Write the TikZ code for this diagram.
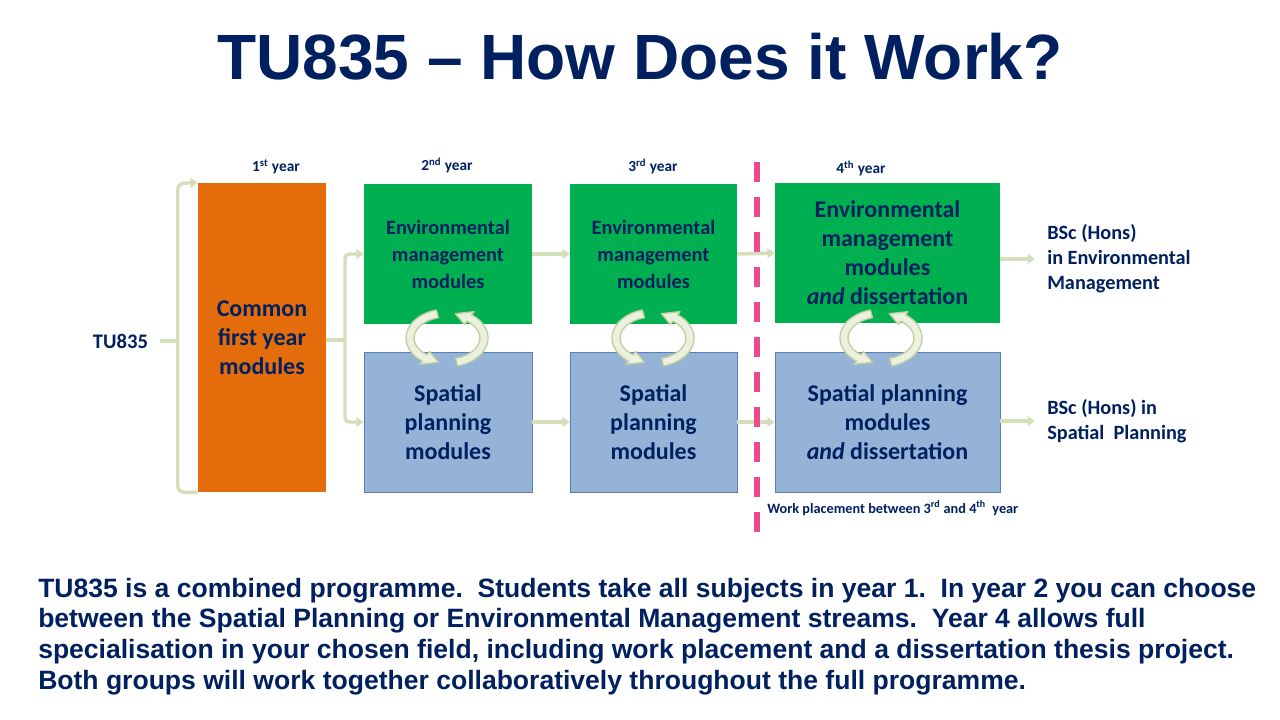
\documentclass[tikz,border=0pt]{standalone}
\usepackage{fontspec}
\setmainfont{Carlito}
\newfontfamily\arialfont{Liberation Sans}[Ligatures=TeX]
\usetikzlibrary{arrows.meta,calc}
\definecolor{navy}{HTML}{002060}
\definecolor{orangebox}{HTML}{E46C0A}
\definecolor{greenbox}{HTML}{00B050}
\definecolor{bluebox}{HTML}{95B3D7}
\definecolor{blueedge}{HTML}{5A7FB5}
\definecolor{conncol}{HTML}{D3DFB9}
\definecolor{cycfill}{HTML}{EBF1DE}
\definecolor{cycedge}{HTML}{BFCF9E}
\definecolor{pinkdash}{HTML}{EC4A8C}
\newcommand\cyclearr[1]{%
  \filldraw[cyc] ($(#1)+(255:41 and 29)$) arc[start angle=255, end angle=127, x radius=41, y radius=29]
    -- ($(#1)+(127:45 and 33)$) -- ($(#1)+(103:37 and 25)$) -- ($(#1)+(127:29 and 17)$)
    -- ($(#1)+(127:33 and 21)$) arc[start angle=127, end angle=255, x radius=33, y radius=21] -- cycle;
  \filldraw[cyc] ($(#1)+(75:41 and 29)$) arc[start angle=75, end angle=-53, x radius=41, y radius=29]
    -- ($(#1)+(-53:45 and 33)$) -- ($(#1)+(-77:37 and 25)$) -- ($(#1)+(-53:29 and 17)$)
    -- ($(#1)+(-53:33 and 21)$) arc[start angle=-53, end angle=75, x radius=33, y radius=21] -- cycle;
}
\begin{document}
\begin{tikzpicture}[x=0.75pt,y=-0.75pt,
  boxtext/.style={text=navy, align=center, inner sep=0pt},
  smalltext/.style={font=\fontsize{15.3}{20.25}\selectfont\bfseries},
  bigtext/.style={font=\fontsize{18}{21.75}\selectfont\bfseries},
  obox/.style={boxtext, bigtext, fill=orangebox, minimum width=96pt, minimum height=231.75pt},
  gbox/.style={boxtext, fill=greenbox, minimum height=105pt},
  bbox/.style={boxtext, bigtext, fill=bluebox, draw=blueedge, line width=0.6pt, minimum height=105pt},
  yearlbl/.style={text=navy, font=\fontsize{11.5}{13}\selectfont\bfseries, anchor=base, inner sep=0pt},
  outlbl/.style={text=navy, font=\fontsize{15.2}{18.75}\selectfont\bfseries, align=left, anchor=west, inner sep=0pt},
  para/.style={text=navy, font=\arialfont\fontsize{19.9}{23}\selectfont\bfseries, anchor=base west, inner sep=0pt},
  conn/.style={draw=conncol, line width=2.6pt},
  arr/.style={conn, -{Triangle[length=5.5pt,width=7.5pt]}},
  cyc/.style={fill=cycfill, draw=cycedge, line width=1pt, line join=round},
]
\useasboundingbox (0,0) rectangle (1280,720);
\fill[white] (0,0) rectangle (1280,720);

% title
\node[text=navy, font=\arialfont\fontsize{48}{56}\selectfont\bfseries, anchor=base, inner sep=0pt] (title) at (640,80) {TU835 \textendash{} How Does it Work?};

% year labels
\node[yearlbl] (y1) at (276,172) {1\textsuperscript{st} year};
\node[yearlbl] (y2) at (447,171) {2\textsuperscript{nd} year};
\node[yearlbl] (y3) at (653,172) {3\textsuperscript{rd} year};
\node[yearlbl] (y4) at (861,174) {4\textsuperscript{th} year};

% boxes
\node[obox] (o) at (262,337.5) {Common\\first year\\modules};
\node[gbox, smalltext, minimum width=126pt] (g2) at (448,254) {Environmental\\management\\modules};
\node[gbox, smalltext, minimum width=125.25pt] (g3) at (653.5,254) {Environmental\\management\\modules};
\node[gbox, bigtext, minimum width=168.75pt] (g4) at (887.5,253) {Environmental\\management\\modules\\\textit{and} dissertation};
\node[bbox, minimum width=126pt] (b2) at (448,422) {Spatial\\planning\\modules};
\node[bbox, minimum width=125.25pt] (b3) at (653.5,422) {Spatial\\planning\\modules};
\node[bbox, minimum width=168.75pt] (b4) at (887.5,422) {Spatial planning\\modules\\\textit{and} dissertation};

% output labels
\node[outlbl] (em) at (1047,259) {BSc (Hons)\\in Environmental\\Management};
\node[outlbl] (sp) at (1047,421) {BSc (Hons) in\\Spatial\ \ Planning};

% TU835 label and brace
\node[text=navy, font=\fontsize{15.5}{18}\selectfont\bfseries, inner sep=0pt] (tu) at (120.5,341) {TU835};
\coordinate (bt) at (160,341);
\coordinate (bm) at (178,341);
\draw[conn] (bt) -- (bm);
\draw[arr, rounded corners=5pt] (o.south west) -- ++(-20,0) -- ++(0,-309) -- (o.north west);

% connectors
\coordinate (split) at (345,340);
\draw[conn] (o.east |- split) -- (split);
\draw[arr, rounded corners=3pt] (split) |- (g2.west);
\draw[arr, rounded corners=3pt] (split) |- (b2.west);
\draw[arr] (g2.east) -- (g3.west);
\draw[arr] (g3.east) -- (g4.west);
\draw[arr] (b2.east) -- (b3.west);
\draw[arr] (b3.east) -- (b4.west);
\draw[arr] (g4.east |- em.west) -- ([xshift=-9pt]em.west);
\draw[arr] (b4.east |- sp.west) -- ([xshift=-9pt]sp.west);

% cycle arrows
\coordinate (c2) at (447,338);
\coordinate (c3) at (653,338);
\coordinate (c4) at (881,338);
\cyclearr{c2}
\cyclearr{c3}
\cyclearr{c4}

% work placement divider
\coordinate (dtop) at (757,162);
\coordinate (dbot) at (757,532);
\draw[pinkdash, line width=3.8pt, dash pattern=on 15pt off 11.25pt] (dtop) -- (dbot);
\node[text=navy, font=\fontsize{10.7}{12}\selectfont\bfseries, anchor=base west, inner sep=0pt] (wp) at (767,513) {Work placement between 3\textsuperscript{rd} and 4\textsuperscript{th}\ \ year};

% paragraph
\node[para] (p1) at (38,597) {TU835 is a combined programme.\ \ Students take all subjects in year 1.\ \ In year 2 you can choose};
\node[para] (p2) at (38,627.5) {between the Spatial Planning or Environmental Management streams.\ \ Year 4 allows full};
\node[para] (p3) at (38,658) {specialisation in your chosen field, including work placement and a dissertation thesis project.};
\node[para] (p4) at (38,689) {Both groups will work together collaboratively throughout the full programme.};
\end{tikzpicture}
\end{document}
